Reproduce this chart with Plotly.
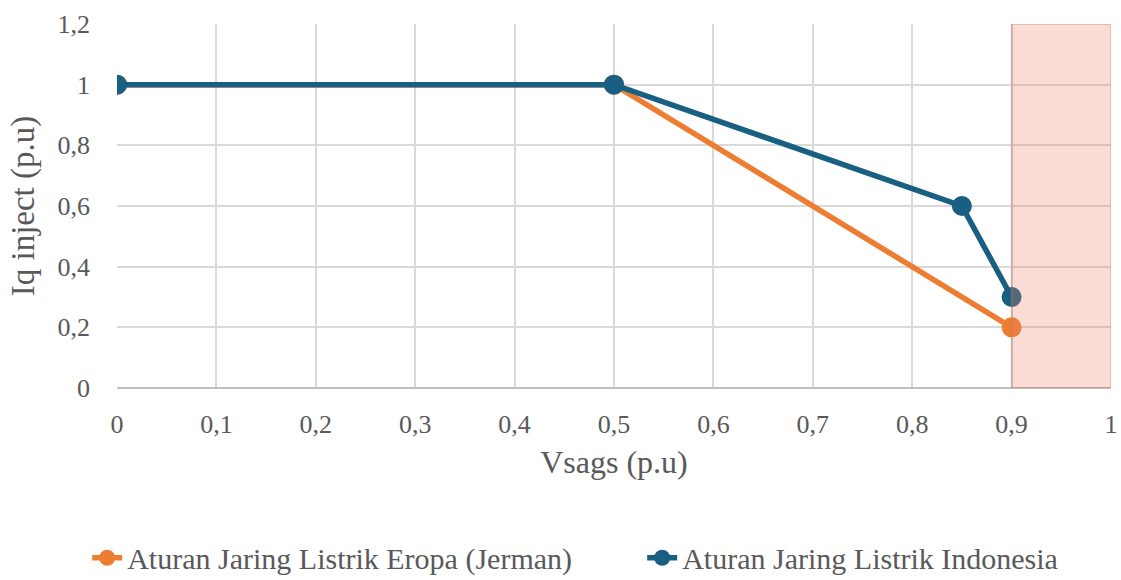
import plotly.graph_objects as go

# Reactive current injection requirement vs voltage sag
vsag_eropa = [0, 0.5, 0.9]
iq_eropa = [1, 1, 0.2]

vsag_indonesia = [0, 0.5, 0.85, 0.9]
iq_indonesia = [1, 1, 0.6, 0.3]

x_ticks = [0, 0.1, 0.2, 0.3, 0.4, 0.5, 0.6, 0.7, 0.8, 0.9, 1]
y_ticks = [0, 0.2, 0.4, 0.6, 0.8, 1, 1.2]

ORANGE = "#ED7D31"
BLUE = "#185F82"
FONT = "Liberation Serif"
TEXT = "#595959"

fig = go.Figure()
fig.add_trace(go.Scatter(
    x=vsag_eropa, y=iq_eropa, mode="lines+markers",
    name="Aturan Jaring Listrik Eropa (Jerman)",
    line=dict(color=ORANGE, width=5.5),
    marker=dict(color=ORANGE, size=20),
))
fig.add_trace(go.Scatter(
    x=vsag_indonesia, y=iq_indonesia, mode="lines+markers",
    name="Aturan Jaring Listrik Indonesia",
    line=dict(color=BLUE, width=5.5),
    marker=dict(color=BLUE, size=20),
))

# Shaded band for the normal-voltage zone
fig.add_shape(
    type="rect", xref="x", yref="y", x0=0.9, x1=1, y0=0, y1=1.2,
    fillcolor="rgba(238,130,100,0.28)",
    line=dict(color="rgba(200,120,100,0.45)", width=1.5),
    layer="above",
)

fig.update_layout(
    width=1121, height=580,
    margin=dict(l=117, r=10, t=24, b=192, autoexpand=False),
    paper_bgcolor="white", plot_bgcolor="white",
    separators=", ",
    font=dict(family=FONT, color=TEXT, size=26),
    showlegend=True,
    legend=dict(
        orientation="h", x=-0.03, xanchor="left", y=-0.395, yanchor="top",
        font=dict(family=FONT, size=30, color=TEXT),
        entrywidth=510, entrywidthmode="pixels",
    ),
    xaxis=dict(
        range=[0, 1], tickvals=x_ticks, automargin=False,
        showgrid=True, gridcolor="#d9d9d9", gridwidth=2,
        zeroline=False, showline=False,
        ticks="", ticklabelstandoff=18,
        tickfont=dict(family=FONT, size=26, color=TEXT),
        title=dict(text="Vsags (p.u)", font=dict(family=FONT, size=32, color=TEXT), standoff=12),
    ),
    yaxis=dict(
        range=[0, 1.2], tickvals=y_ticks, automargin=False,
        showgrid=True, gridcolor="#d9d9d9", gridwidth=2,
        zeroline=True, zerolinecolor="#bfbfbf", zerolinewidth=2,
        showline=False, ticks="", ticklabelstandoff=26,
        tickfont=dict(family=FONT, size=26, color=TEXT),
        title=dict(text="Iq inject (p.u)", font=dict(family=FONT, size=33, color=TEXT), standoff=12),
    ),
)

fig.write_html("out.html")
